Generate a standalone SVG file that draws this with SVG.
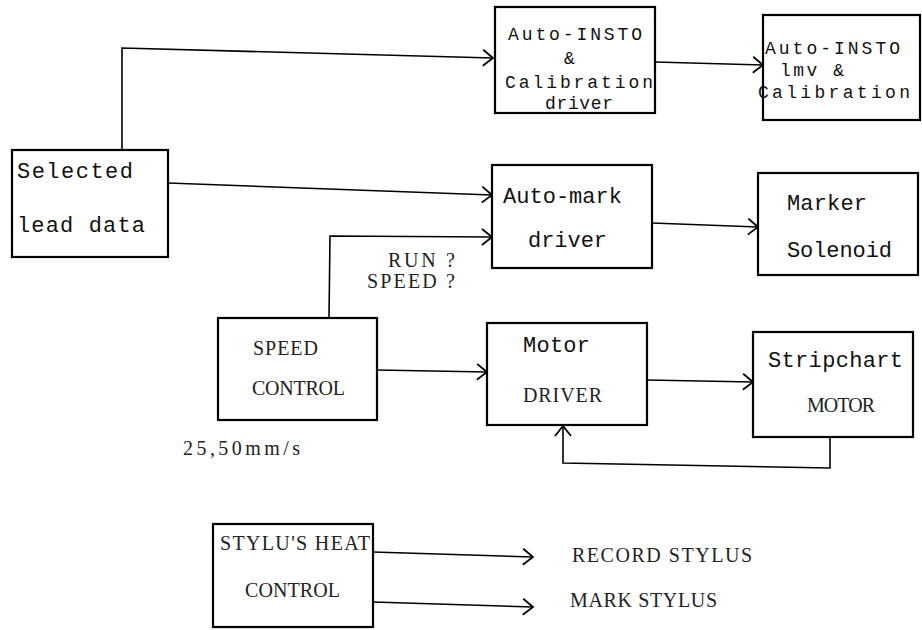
<svg xmlns="http://www.w3.org/2000/svg" width="922" height="630" viewBox="0 0 922 630">
<style>
.box{fill:#fff;stroke:#000;stroke-width:2.2}
.mono{font-family:"Liberation Mono","DejaVu Sans Mono",monospace;font-size:22px;fill:#111}
.tight{font-size:18px}
.serif{font-family:"Liberation Serif","DejaVu Serif",serif;font-size:20px;fill:#222}
.conn{fill:none;stroke:#000;stroke-width:1.6}
</style>
<defs>
<marker id="arr" markerUnits="userSpaceOnUse" markerWidth="14" markerHeight="20" refX="11" refY="9" orient="auto">
<path d="M1,1 L11,9 L1,17" fill="none" stroke="#000" stroke-width="1.8"/>
</marker>
</defs>
<rect width="922" height="630" fill="#fff"/>
<g id="connectors">
<polyline class="conn" points="122,150 122,48 493,58" marker-end="url(#arr)"/>
<line class="conn" x1="168" y1="183" x2="492" y2="195" marker-end="url(#arr)"/>
<line class="conn" x1="655" y1="62" x2="763" y2="65" marker-end="url(#arr)"/>
<polyline class="conn" points="329,318 330,236 492,237" marker-end="url(#arr)"/>
<line class="conn" x1="652" y1="223" x2="758" y2="227" marker-end="url(#arr)"/>
<line class="conn" x1="377" y1="370" x2="487" y2="372" marker-end="url(#arr)"/>
<line class="conn" x1="647" y1="380" x2="753" y2="382" marker-end="url(#arr)"/>
<polyline class="conn" points="830,437 830,468 563,463 563,426" marker-end="url(#arr)"/>
<line class="conn" x1="373" y1="552" x2="533" y2="557" marker-end="url(#arr)"/>
<line class="conn" x1="373" y1="602" x2="533" y2="607" marker-end="url(#arr)"/>
</g>
<g id="selected-lead-data">
<rect class="box" x="12" y="150" width="156" height="107"/>
<text class="mono" x="17" y="178" textLength="116">Selected</text>
<text class="mono" x="17" y="232" textLength="128">lead data</text>
</g>
<g id="auto-insto-driver">
<rect class="box" x="495" y="7" width="160" height="106"/>
<text class="mono tight" x="508" y="40" textLength="134">Auto-INSTO</text>
<text class="mono tight" x="564" y="64">&amp;</text>
<text class="mono tight" x="505" y="88" textLength="148">Calibration</text>
<text class="mono tight" x="545" y="109" textLength="68">driver</text>
</g>
<g id="auto-insto-lmv">
<rect class="box" x="763" y="15" width="157" height="105"/>
<text class="mono tight" x="765" y="54" textLength="135">Auto-INSTO</text>
<text class="mono tight" x="780" y="76" textLength="64">lmv &amp;</text>
<text class="mono tight" x="758" y="98" textLength="152">Calibration</text>
</g>
<g id="auto-mark-driver">
<rect class="box" x="492" y="165" width="160" height="103"/>
<text class="mono" x="503" y="203" textLength="119">Auto-mark</text>
<text class="mono" x="528" y="247" textLength="79">driver</text>
</g>
<g id="marker-solenoid">
<rect class="box" x="758" y="173" width="160" height="102"/>
<text class="mono" x="787" y="210" textLength="80">Marker</text>
<text class="mono" x="787" y="257" textLength="105">Solenoid</text>
</g>
<g id="speed-control">
<rect class="box" x="218" y="318" width="159" height="102"/>
<text class="serif" x="253" y="355" textLength="65">SPEED</text>
<text class="serif" x="252" y="395" textLength="93">CONTROL</text>
</g>
<g id="motor-driver">
<rect class="box" x="487" y="323" width="160" height="102"/>
<text class="mono" x="523" y="352" textLength="67">Motor</text>
<text class="serif" x="523" y="402" textLength="79">DRIVER</text>
</g>
<g id="stripchart-motor">
<rect class="box" x="753" y="332" width="160" height="105"/>
<text class="mono" x="768" y="367" textLength="135">Stripchart</text>
<text class="serif" x="807" y="412" textLength="68">MOTOR</text>
</g>
<g id="stylus-heat-control">
<rect class="box" x="213" y="524" width="160" height="103"/>
<text class="serif" x="220" y="550" textLength="150">STYLU'S  HEAT</text>
<text class="serif" x="245" y="597" textLength="95">CONTROL</text>
</g>
<g id="labels">
<text class="serif" x="388" y="267" textLength="67" font-size="18">RUN  ?</text>
<text class="serif" x="367" y="288" textLength="88" font-size="18">SPEED  ?</text>
<text class="serif" x="183" y="455" textLength="117">25,50mm/s</text>
<text class="serif" x="572" y="562" textLength="180">RECORD  STYLUS</text>
<text class="serif" x="570" y="607" textLength="147">MARK  STYLUS</text>
</g>
</svg>
